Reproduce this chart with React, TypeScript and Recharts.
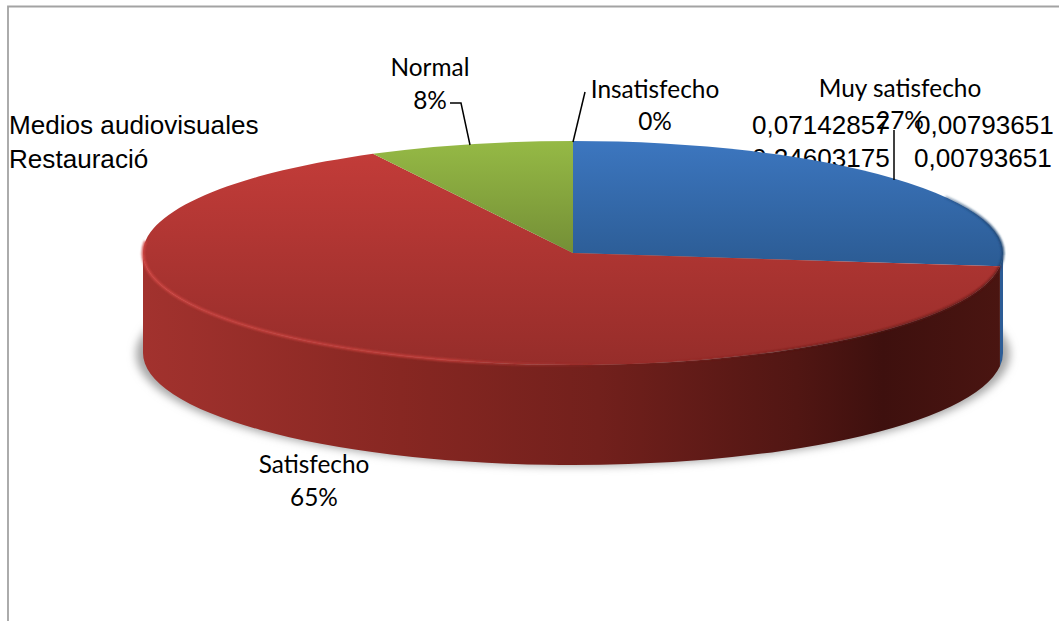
import { Pie, PieChart } from 'recharts';

const categories = ['Muy satisfecho', 'Satisfecho', 'Normal', 'Insatisfecho'];
const shares = [26.9, 65.4, 7.7, 0];
const tableSeries = ['Medios audiovisuales', 'Restauració'];
const tableRowA = ['0,07142857', '0,00793651'];
const tableRowB = ['0,24603175', '0,00793651'];

const data = categories.map((name, i) => ({ name, value: shares[i] }));

const CX = 573;
const CY = 253;
const RX = 430;
const RY = 112;
const DEPTH = 100;

const CALIBRI = 'Lato, Carlito, sans-serif';
const ARIAL = '"Liberation Sans", Arial, sans-serif';

const topFills = ['url(#topBlue)', 'url(#topRed)', 'url(#topGreen)', 'none'];
const sideFills = ['#2c5c96', 'url(#sideRed)', '#76923a', 'none'];
const rimStrokes = ['url(#rimBlue)', 'url(#rim)', 'none', 'none'];
// how far round the disc the bevel runs, per slice
const rimLimits = [-10, -186, 0, 0];

const labelLayout = [
  { x: 900, y1: 97, y2: 129, leader: [[894, 180], [894, 130]] },
  { x: 314, y1: 473, y2: 506, leader: [] },
  { x: 430, y1: 76, y2: 109, leader: [[470, 145], [461, 103], [450, 103]] },
  { x: 655, y1: 98, y2: 130, leader: [[573, 142], [585, 92]] }
];

function pt(deg: number, dy = 0) {
  const a = (deg * Math.PI) / 180;
  return `${CX + RX * Math.cos(a)} ${CY - RY * Math.sin(a) + dy}`;
}

// recharts hands over the circular sector angles, we flatten them to the tilted ellipse
function TopSlice(props: any) {
  const { startAngle, endAngle, index } = props;
  const sweep = startAngle - endAngle;
  if (sweep <= 0) return null;
  const large = sweep > 180 ? 1 : 0;
  const d = `M${CX} ${CY} L${pt(startAngle)} A${RX} ${RY} 0 ${large} 1 ${pt(endAngle)} Z`;
  const rimFrom = index === 0 ? 30 : startAngle;
  const rimTo = index === 0 ? endAngle : Math.max(endAngle, rimLimits[index]);
  return (
    <g>
      <path d={d} fill={topFills[index]} />
      {rimFrom > rimTo && (
        <path
          d={`M${pt(rimFrom)} A${RX} ${RY} 0 ${rimFrom - rimTo > 180 ? 1 : 0} 1 ${pt(rimTo)}`}
          fill="none"
          stroke={rimStrokes[index]}
          strokeWidth={2.5}
          filter="url(#soft)"
        />
      )}
    </g>
  );
}

// only the front half of the disc shows a wall
function SideSlice(props: any) {
  const { startAngle, endAngle, index } = props;
  const from = Math.min(startAngle, 0);
  const to = Math.max(endAngle, -180);
  if (from <= to) return null;
  const large = from - to > 180 ? 1 : 0;
  const d =
    `M${pt(from)} A${RX} ${RY} 0 ${large} 1 ${pt(to)} ` +
    `L${pt(to, DEPTH)} A${RX} ${RY} 0 ${large} 0 ${pt(from, DEPTH)} Z`;
  return <path d={d} fill={sideFills[index]} />;
}

function SliceLabel(props: any) {
  const { index, value, name } = props;
  const box = labelLayout[index];
  const textProps = { fontFamily: CALIBRI, fontSize: 24.4, fill: '#000', textAnchor: 'middle' as const };
  return (
    <g>
      {box.leader.length > 0 && (
        <polyline
          points={box.leader.map((p) => p.join(',')).join(' ')}
          fill="none"
          stroke="#000"
          strokeWidth={1.5}
        />
      )}
      <text x={box.x} y={box.y1} {...textProps}>
        {name}
      </text>
      <text x={box.x} y={box.y2} {...textProps}>
        {Math.round(value)}%
      </text>
    </g>
  );
}

const tableText = { fontFamily: ARIAL, fontSize: 26.1, fill: '#000' };

export default function App() {
  return (
    <div style={{ position: 'absolute', left: 0, top: 0, width: 1059, height: 621, background: '#fff' }}>
      <PieChart width={1059} height={621} margin={{ top: 0, right: 0, bottom: 0, left: 0 }}>
        <defs>
          <linearGradient id="topBlue" gradientUnits="userSpaceOnUse" x1="0" y1="142" x2="0" y2="268">
            <stop offset="0" stopColor="#3c76bf" />
            <stop offset="1" stopColor="#2b5b93" />
          </linearGradient>
          <linearGradient id="topRed" gradientUnits="userSpaceOnUse" x1="0" y1="150" x2="0" y2="365">
            <stop offset="0" stopColor="#c33c39" />
            <stop offset="1" stopColor="#962d2a" />
          </linearGradient>
          <linearGradient id="topGreen" gradientUnits="userSpaceOnUse" x1="0" y1="142" x2="0" y2="253">
            <stop offset="0" stopColor="#95b945" />
            <stop offset="1" stopColor="#748f36" />
          </linearGradient>
          <linearGradient id="sideRed" gradientUnits="userSpaceOnUse" x1="143" y1="0" x2="1003" y2="0">
            <stop offset="0" stopColor="#a2322e" />
            <stop offset="0.3" stopColor="#872722" />
            <stop offset="0.53" stopColor="#72201c" />
            <stop offset="0.76" stopColor="#511613" />
            <stop offset="0.86" stopColor="#3e100e" />
            <stop offset="1" stopColor="#4a1511" />
          </linearGradient>
          <linearGradient id="rim" gradientUnits="userSpaceOnUse" x1="143" y1="0" x2="1003" y2="0">
            <stop offset="0" stopColor="#d04744" />
            <stop offset="0.35" stopColor="#c8403c" />
            <stop offset="0.55" stopColor="#a83230" stopOpacity="0" />
            <stop offset="0.75" stopColor="#5a1a17" stopOpacity="0.5" />
            <stop offset="1" stopColor="#5a1a17" stopOpacity="0.9" />
          </linearGradient>
          <linearGradient id="rimBlue" gradientUnits="userSpaceOnUse" x1="900" y1="0" x2="1003" y2="0">
            <stop offset="0" stopColor="#1f4470" stopOpacity="0" />
            <stop offset="1" stopColor="#1f4470" />
          </linearGradient>
          <filter id="soft" x="-5%" y="-20%" width="110%" height="140%">
            <feGaussianBlur stdDeviation="0.9" />
          </filter>
          <filter id="blur" x="-5%" y="-20%" width="110%" height="140%">
            <feGaussianBlur stdDeviation="4" />
          </filter>
        </defs>

        <path d="M8 621 V6.5 H1059" fill="none" stroke="#a3a3a3" strokeWidth={1.8} />

        <text x={9} y={134} {...tableText}>{tableSeries[0]}</text>
        <text x={9} y={168} {...tableText}>{tableSeries[1]}</text>
        <text x={752} y={134} {...tableText}>{tableRowA[0]}</text>
        <text x={916} y={134} {...tableText}>{tableRowA[1]}</text>
        <text x={752} y={167} {...tableText}>{tableRowB[0]}</text>
        <text x={914} y={167} {...tableText}>{tableRowB[1]}</text>

        <ellipse cx={CX} cy={CY + DEPTH + 1} rx={RX + 7} ry={RY} fill="#a6a6a6" filter="url(#blur)" />

        <Pie
          data={data}
          dataKey="value"
          nameKey="name"
          cx={CX}
          cy={CY}
          outerRadius={RX}
          startAngle={90}
          endAngle={-270}
          shape={SideSlice}
          label={false}
          labelLine={false}
          isAnimationActive={false}
        />
        <Pie
          data={data}
          dataKey="value"
          nameKey="name"
          cx={CX}
          cy={CY}
          outerRadius={RX}
          startAngle={90}
          endAngle={-270}
          shape={TopSlice}
          label={SliceLabel}
          labelLine={false}
          isAnimationActive={false}
        />
      </PieChart>
    </div>
  );
}
